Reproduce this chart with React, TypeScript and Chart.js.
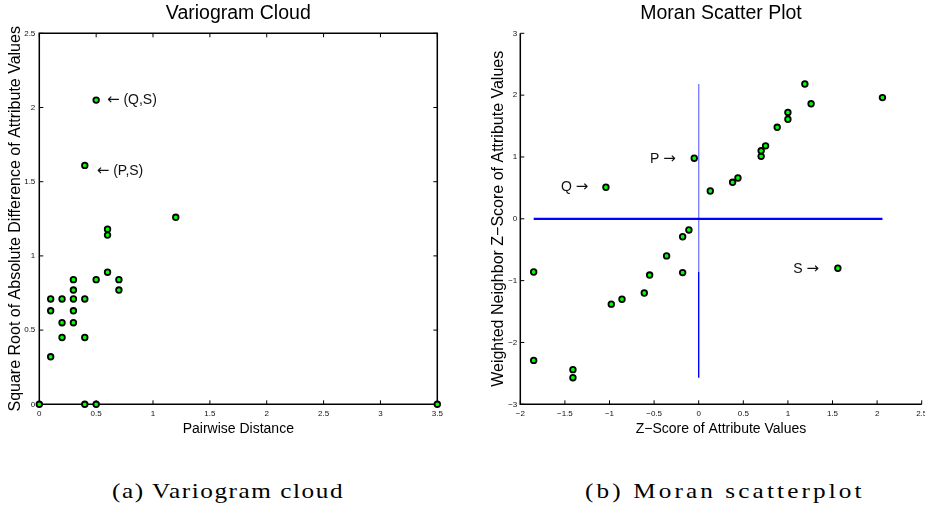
import React, { useEffect, useRef } from "react";
import { Chart, registerables } from "chart.js";

Chart.register(...registerables);

const SANS = '"Liberation Sans", Arial, Helvetica, sans-serif';
const ARROW_FONT = '"DejaVu Sans", "Liberation Sans", sans-serif';
const SERIF = '"Liberation Serif", "Times New Roman", serif';

// ---------- Variogram cloud data ----------
const pairDistance = [
  0, 0.1, 0.1, 0.1, 0.2, 0.2, 0.2, 0.3, 0.3, 0.3, 0.3, 0.3, 0.4, 0.4, 0.4, 0.4,
  0.5, 0.5, 0.5, 0.6, 0.6, 0.6, 0.7, 0.7, 1.2, 3.5,
];
const sqrtAbsDiff = [
  0, 0.71, 0.63, 0.32, 0.71, 0.55, 0.45, 0.84, 0.77, 0.71, 0.63, 0.55, 1.61, 0.71, 0.45, 0,
  2.05, 0.84, 0, 1.18, 1.14, 0.89, 0.84, 0.77, 1.26, 0,
];
const varXTicks = [0, 0.5, 1, 1.5, 2, 2.5, 3, 3.5];
const varYTicks = [0, 0.5, 1, 1.5, 2, 2.5];
const varNoteText = ["\u2190 (Q,S)", "\u2190 (P,S)"];
const varNoteX = [0.595, 0.505];
const varNoteY = [2.05, 1.574];

// ---------- Moran scatter data ----------
const zScore = [
  -1.85, -1.85, -1.41, -1.41, -1.04, -0.98, -0.86, -0.61, -0.55, -0.36, -0.18, -0.18, -0.11,
  -0.05, 0.13, 0.38, 0.44, 0.7, 0.7, 0.75, 0.88, 1.0, 1.0, 1.19, 1.26, 1.56, 2.06,
];
const neighborZ = [
  -0.86, -2.29, -2.44, -2.57, 0.51, -1.38, -1.3, -1.2, -0.91, -0.6, -0.29, -0.87, -0.18,
  0.98, 0.45, 0.59, 0.66, 1.01, 1.1, 1.18, 1.48, 1.61, 1.72, 2.18, 1.86, -0.8, 1.96,
];
const moranXTicks = [-2, -1.5, -1, -0.5, 0, 0.5, 1, 1.5, 2, 2.5];
const moranYTicks = [-3, -2, -1, 0, 1, 2, 3];
const moranNoteText = ["P \u2192", "Q \u2192", "S \u2192"];
const moranNoteX = [-0.546, -1.544, 1.06];
const moranNoteY = [0.96, 0.52, -0.82];
const vLineShadeBreak = -0.86;

const fmt = (v: number) => (v < 0 ? "\u2212" + String(Math.abs(v)) : String(v));

const framePlugin = {
  id: "frame",
  beforeDatasetsDraw(chart: any, _args: any, opts: any) {
    const { ctx, chartArea: a, scales } = chart;
    const xs = scales.x;
    const ys = scales.y;
    ctx.save();
    ctx.strokeStyle = "#000";
    ctx.lineWidth = 1.5;
    ctx.beginPath();
    if (opts.box) {
      ctx.rect(a.left, a.top, a.right - a.left, a.bottom - a.top);
    } else {
      ctx.moveTo(a.left, a.top);
      ctx.lineTo(a.left, a.bottom);
      ctx.lineTo(a.right, a.bottom);
    }
    ctx.stroke();
    const L = 4;
    ctx.lineWidth = 1;
    ctx.beginPath();
    xs.ticks.forEach((t: any) => {
      const px = xs.getPixelForValue(t.value);
      ctx.moveTo(px, a.bottom);
      ctx.lineTo(px, a.bottom - L);
      if (opts.box) {
        ctx.moveTo(px, a.top);
        ctx.lineTo(px, a.top + L);
      }
    });
    ys.ticks.forEach((t: any) => {
      const py = ys.getPixelForValue(t.value);
      ctx.moveTo(a.left, py);
      ctx.lineTo(a.left + L, py);
      if (opts.box) {
        ctx.moveTo(a.right, py);
        ctx.lineTo(a.right - L, py);
      }
    });
    ctx.stroke();
    ctx.restore();
  },
};

// Draws text labels anchored at data coordinates; arrow glyphs use a font with larger arrows.
const notesPlugin = {
  id: "notes",
  afterDatasetsDraw(chart: any, _args: any, opts: any) {
    const { ctx, scales } = chart;
    ctx.save();
    ctx.fillStyle = "#111";
    ctx.textAlign = "left";
    ctx.textBaseline = "middle";
    (opts.text || []).forEach((t: string, i: number) => {
      let px = scales.x.getPixelForValue(opts.x[i]);
      const py = scales.y.getPixelForValue(opts.y[i]);
      const parts = t.split(/([\u2190\u2192])/).filter((p) => p.length > 0);
      parts.forEach((p) => {
        const isArrow = p === "\u2190" || p === "\u2192";
        ctx.font = isArrow ? `15px ${ARROW_FONT}` : `14px ${SANS}`;
        ctx.fillText(p, px, py);
        px += ctx.measureText(p).width;
      });
    });
    ctx.restore();
  },
};

function axis(
  ticks: number[],
  min: number,
  max: number,
  title: string,
  size: number,
  horizontal: boolean,
  titlePad: any,
  tickPad: number
) {
  return {
    type: "linear",
    min,
    max,
    afterBuildTicks: (s: any) => {
      s.ticks = ticks.map((v) => ({ value: v }));
    },
    afterFit: (s: any) => {
      if (horizontal) s.height = size;
      else s.width = size;
    },
    grid: { display: false, drawTicks: false },
    border: { display: false },
    ticks: {
      autoSkip: false,
      maxRotation: 0,
      padding: tickPad,
      color: "#111",
      font: { family: SANS, size: 8 },
      callback: (v: any) => fmt(Number(v)),
    },
    title: {
      display: true,
      text: title,
      color: "#000",
      font: { family: SANS, size: horizontal ? 14 : 16 },
      padding: titlePad,
    },
  };
}

function pointsDataset(xs: number[], ys: number[]) {
  return {
    type: "scatter",
    data: xs.map((x, i) => ({ x, y: ys[i] })),
    pointRadius: 2.8,
    pointBorderWidth: 1.8,
    pointBackgroundColor: "#00ff00",
    pointBorderColor: "#000",
    clip: false,
  };
}

function commonPlugins(title: string, notes: any, box: boolean) {
  return {
    legend: { display: false },
    tooltip: { enabled: false },
    title: {
      display: true,
      text: title,
      fullSize: false,
      color: "#000",
      font: { family: SANS, size: 19.5, weight: "normal" },
      padding: { top: 2.3, bottom: 7.6 },
    },
    frame: { box },
    notes,
  };
}

export default function App() {
  const leftRef = useRef<HTMLCanvasElement | null>(null);
  const rightRef = useRef<HTMLCanvasElement | null>(null);

  useEffect(() => {
    const left = new Chart(leftRef.current as HTMLCanvasElement, {
      type: "scatter",
      data: { datasets: [pointsDataset(pairDistance, sqrtAbsDiff)] as any },
      options: {
        responsive: false,
        animation: false,
        events: [],
        layout: { padding: { left: 0, right: 22.7, top: 0, bottom: 0 } },
        scales: {
          x: axis(varXTicks, 0, 3.5, "Pairwise Distance", 35.7, true, { top: 0, bottom: 2.6 }, 5) as any,
          y: axis(
            varYTicks,
            0,
            2.5,
            "Square Root of Absolute Difference of Attribute Values",
            39.3,
            false,
            { top: 6, bottom: 0 },
            4
          ) as any,
        },
        plugins: commonPlugins(
          "Variogram Cloud",
          { text: varNoteText, x: varNoteX, y: varNoteY },
          true
        ) as any,
      },
      plugins: [framePlugin, notesPlugin],
    });

    const zMin = Math.min(...zScore);
    const zMax = Math.max(...zScore);
    const nMin = Math.min(...neighborZ);
    const nMax = Math.max(...neighborZ);
    const lineDs = (pts: { x: number; y: number }[], color: string, width: number) => ({
      type: "line",
      data: pts,
      borderColor: color,
      borderWidth: width,
      pointRadius: 0,
      fill: false,
      tension: 0,
    });

    const right = new Chart(rightRef.current as HTMLCanvasElement, {
      type: "scatter",
      data: {
        datasets: [
          pointsDataset(zScore, neighborZ),
          lineDs([{ x: zMin, y: 0 }, { x: zMax, y: 0 }], "#0000ff", 2.2),
          lineDs([{ x: 0, y: nMax }, { x: 0, y: vLineShadeBreak }], "#7f7fff", 1.4),
          lineDs([{ x: 0, y: vLineShadeBreak }, { x: 0, y: nMin }], "#0000ff", 1.4),
        ] as any,
      },
      options: {
        responsive: false,
        animation: false,
        events: [],
        layout: { padding: { left: 0, right: 18.3, top: 0, bottom: 0 } },
        scales: {
          x: axis(
            moranXTicks,
            -2,
            2.5,
            "Z\u2212Score of Attribute Values",
            35.7,
            true,
            { top: 0, bottom: 2.6 },
            5
          ) as any,
          y: axis(
            moranYTicks,
            -3,
            3,
            "Weighted Neighbor Z\u2212Score of Attribute Values",
            40.3,
            false,
            { top: 9, bottom: 0 },
            3
          ) as any,
        },
        plugins: commonPlugins(
          "Moran Scatter Plot",
          { text: moranNoteText, x: moranNoteX, y: moranNoteY },
          false
        ) as any,
      },
      plugins: [framePlugin, notesPlugin],
    });

    return () => {
      left.destroy();
      right.destroy();
    };
  }, []);

  const captionStyle = (left: number, scale: number, spacing: number): React.CSSProperties => ({
    position: "absolute",
    left,
    top: 481,
    fontFamily: SERIF,
    fontSize: 21,
    lineHeight: "21px",
    letterSpacing: `${spacing}px`,
    color: "#000",
    whiteSpace: "nowrap",
    transform: `scaleX(${scale})`,
    transformOrigin: "0 0",
  });

  return (
    <div
      style={{
        position: "absolute",
        left: 0,
        top: 0,
        width: 925,
        height: 514,
        overflow: "hidden",
        background: "#fff",
      }}
    >
      <canvas ref={leftRef} width={460} height={440} style={{ position: "absolute", left: 0, top: 0 }} />
      <canvas ref={rightRef} width={460} height={440} style={{ position: "absolute", left: 480, top: 0 }} />
      <div style={captionStyle(111.7, 1.2, 1.3)}>(a) Variogram cloud</div>
      <div style={captionStyle(585, 1.2, 2.6)}>(b) Moran scatterplot</div>
    </div>
  );
}
